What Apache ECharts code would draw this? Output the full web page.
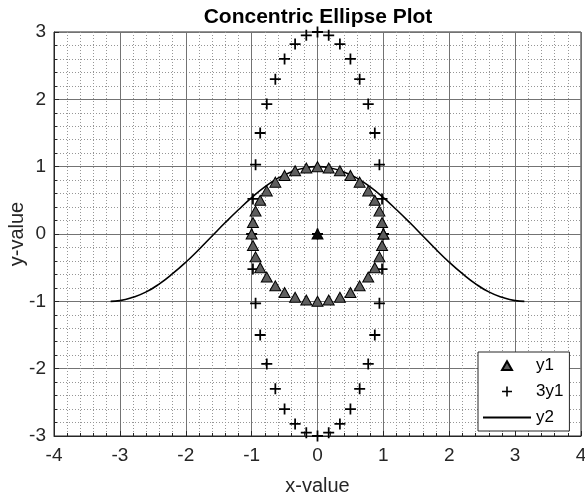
<!DOCTYPE html>
<html>
<head>
<meta charset="utf-8">
<script src="https://cdn.jsdelivr.net/npm/echarts@6/dist/echarts.min.js"></script>
<style>
  html, body { margin: 0; padding: 0; background: #fff; }
  #chart { width: 585px; height: 497px; }
</style>
</head>
<body>
<div id="chart"></div>
<script>
// Points on the unit circle, 10 degrees apart
const circleX = [1.00, 0.98, 0.94, 0.87, 0.77, 0.64, 0.50, 0.34, 0.17, 0.00, -0.17, -0.34, -0.50, -0.64, -0.77, -0.87, -0.94, -0.98,
                 -1.00, -0.98, -0.94, -0.87, -0.77, -0.64, -0.50, -0.34, -0.17, 0.00, 0.17, 0.34, 0.50, 0.64, 0.77, 0.87, 0.94, 0.98, 1.00];
const y1Values = [0.00, 0.17, 0.34, 0.50, 0.64, 0.77, 0.87, 0.94, 0.98, 1.00, 0.98, 0.94, 0.87, 0.77, 0.64, 0.50, 0.34, 0.17,
                  0.00, -0.17, -0.34, -0.50, -0.64, -0.77, -0.87, -0.94, -0.98, -1.00, -0.98, -0.94, -0.87, -0.77, -0.64, -0.50, -0.34, -0.17, 0.00];
// Stretched ellipse (three times y1)
const y3Values = [0.00, 0.52, 1.03, 1.50, 1.93, 2.30, 2.60, 2.82, 2.95, 3.00, 2.95, 2.82, 2.60, 2.30, 1.93, 1.50, 1.03, 0.52,
                  0.00, -0.52, -1.03, -1.50, -1.93, -2.30, -2.60, -2.82, -2.95, -3.00, -2.95, -2.82, -2.60, -2.30, -1.93, -1.50, -1.03, -0.52, 0.00];
// Centre point
const centerX = [0];
const centerY = [0];
// y2 curve
const y2X = [-3.14, -3.0, -2.8, -2.6, -2.4, -2.2, -2.0, -1.8, -1.6, -1.4, -1.2, -1.0, -0.8, -0.6, -0.4, -0.2, 0.0,
             0.2, 0.4, 0.6, 0.8, 1.0, 1.2, 1.4, 1.6, 1.8, 2.0, 2.2, 2.4, 2.6, 2.8, 3.0, 3.14];
const y2Values = [-1.00, -0.99, -0.94, -0.86, -0.74, -0.59, -0.42, -0.23, -0.03, 0.17, 0.36, 0.54, 0.70, 0.83, 0.92, 0.98, 1.00,
                  0.98, 0.92, 0.83, 0.70, 0.54, 0.36, 0.17, -0.03, -0.23, -0.42, -0.59, -0.74, -0.86, -0.94, -0.99, -1.00];
const xTicks = [-4, -3, -2, -1, 0, 1, 2, 3, 4];
const yTicks = [-3, -2, -1, 0, 1, 2, 3];
const seriesNames = ['y1', '3y1', 'y2'];

const FONT = '"Liberation Sans", Arial, Helvetica, sans-serif';
const PLUS = 'path://M4.2,0H5.8V10H4.2Z M0,4.2H10V5.8H0Z';
// legend icon: a small triangle centred in a 48x10 box
const LEGEND_TRIANGLE = 'path://M0,0L0,0 M48,10L48,10 M24,0.8L29,9.6L19,9.6Z';

const zip = (xs, ys) => xs.map((x, i) => [x, ys[i]]);

const y1Data = zip(circleX, y1Values).concat(
  zip(centerX, centerY).map(p => ({ value: p, itemStyle: { color: '#0a0a0a' } }))
);
const y3Data = zip(circleX, y3Values).concat(zip(centerX, centerY));
const y2Data = zip(y2X, y2Values);

const axisCommon = {
  axisLine: { show: true, onZero: false, lineStyle: { color: '#262626', width: 1 } },
  axisTick: { show: true, inside: true, length: 5, lineStyle: { color: '#262626' } },
  minorTick: { show: true, splitNumber: 5, length: 3, lineStyle: { color: '#262626' } },
  splitLine: { show: true, lineStyle: { color: '#737373', width: 1 } },
  minorSplitLine: { show: true, lineStyle: { color: '#969696', width: 1, type: [1, 2] } },
  axisLabel: { color: '#262626', fontSize: 19, fontFamily: FONT },
  nameTextStyle: { color: '#262626', fontSize: 20, fontFamily: FONT },
  nameMoveOverlap: false
};

const chart = echarts.init(document.getElementById('chart'), null, { renderer: 'canvas' });
chart.setOption({
  animation: false,
  backgroundColor: '#fff',
  title: {
    text: 'Concentric Ellipse Plot',
    left: 313,
    textAlign: 'center',
    top: 2,
    textStyle: { fontFamily: FONT, fontSize: 21, fontWeight: 'bold', color: '#000' }
  },
  grid: {
    left: 54, right: 4, top: 32, bottom: 61,
    containLabel: false, outerBoundsMode: 'none',
    show: true, borderColor: '#262626', borderWidth: 1, backgroundColor: 'transparent'
  },
  xAxis: Object.assign({}, axisCommon, {
    type: 'value',
    min: xTicks[0], max: xTicks[xTicks.length - 1], interval: 1,
    name: 'x-value', nameLocation: 'middle', nameGap: 40,
    axisLabel: Object.assign({}, axisCommon.axisLabel, { margin: 10 })
  }),
  yAxis: Object.assign({}, axisCommon, {
    type: 'value',
    min: yTicks[0], max: yTicks[yTicks.length - 1], interval: 1,
    name: 'y-value', nameLocation: 'middle', nameGap: 27, nameRotate: 90,
    axisLabel: Object.assign({}, axisCommon.axisLabel, { margin: 8 })
  }),
  legend: {
    data: [
      { name: seriesNames[0], icon: LEGEND_TRIANGLE },
      { name: seriesNames[1] },
      { name: seriesNames[2], itemStyle: { opacity: 0 } }
    ],
    orient: 'vertical',
    left: 478, top: 352,
    padding: [5, 6, 5, 4],
    itemWidth: 48, itemHeight: 10, itemGap: 9,
    symbolKeepAspect: true,
    backgroundColor: '#fff',
    borderColor: '#262626', borderWidth: 1, borderRadius: 0,
    textStyle: { color: '#000', fontSize: 17, fontFamily: FONT, lineHeight: 15 }
  },
  series: [
    {
      name: seriesNames[2], type: 'line', data: y2Data,
      smooth: true, showSymbol: false, symbol: 'none',
      lineStyle: { color: '#000', width: 1.6 },
      itemStyle: { color: '#000' },
      z: 2
    },
    {
      name: seriesNames[1], type: 'scatter', data: y3Data,
      symbol: PLUS, symbolSize: 11, symbolKeepAspect: true,
      itemStyle: { color: '#000', opacity: 1 },
      z: 3
    },
    {
      name: seriesNames[0], type: 'scatter', data: y1Data,
      symbol: 'triangle', symbolSize: [11, 10], symbolKeepAspect: true,
      itemStyle: { color: '#5e5e5e', borderColor: '#000', borderWidth: 1, opacity: 1 },
      z: 4
    }
  ]
});
</script>
</body>
</html>
